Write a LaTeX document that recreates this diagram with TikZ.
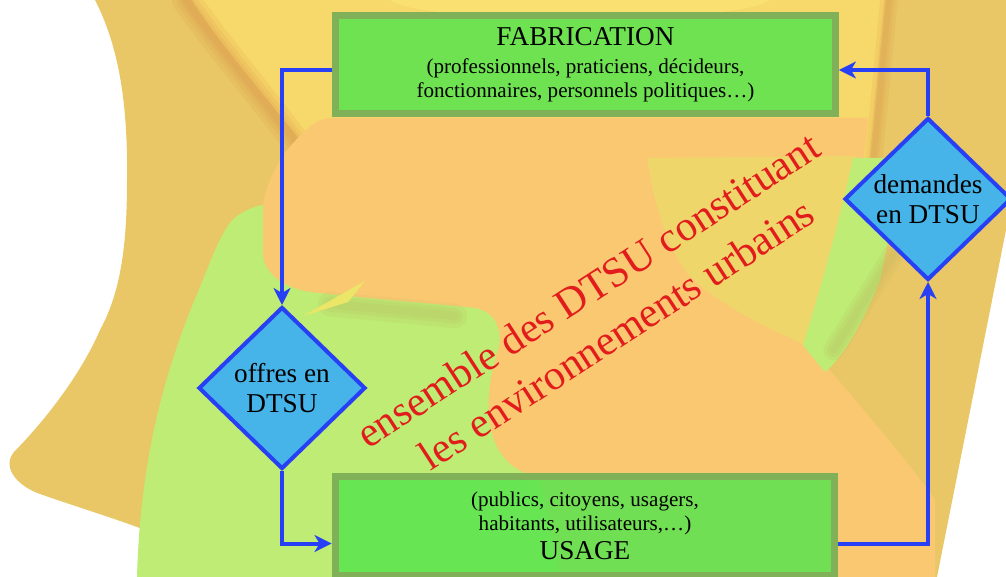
\documentclass[tikz,border=0pt]{standalone}
\usepackage{fontspec}
\setmainfont{Liberation Serif}
\definecolor{fondtan}{RGB}{233,199,102}
\definecolor{fondjaune}{RGB}{247,216,106}
\definecolor{jauneclair}{RGB}{238,214,106}
\definecolor{jaunevif}{RGB}{249,224,112}
\definecolor{fondpeche}{RGB}{251,200,114}
\definecolor{fondvert}{RGB}{190,236,116}
\definecolor{coinjaune}{RGB}{236,230,104}
\definecolor{ombre}{RGB}{214,136,66}
\definecolor{ombrevert}{RGB}{185,178,92}
\definecolor{boitevert}{RGB}{88,228,78}
\definecolor{bordvert}{RGB}{128,176,88}
\definecolor{losbleu}{RGB}{70,180,232}
\definecolor{flechebleu}{RGB}{40,64,245}
\definecolor{rougetexte}{RGB}{226,28,28}
\usetikzlibrary{arrows.meta, shapes.geometric}

\begin{document}
\begin{tikzpicture}[x=0.02cm, y=-0.02cm,
          boite/.style={draw=bordvert, line width=0.14cm, fill=boitevert,
              fill opacity=0.85, text opacity=1, inner sep=0pt,
              minimum width=10cm, minimum height=1.97cm,
              font=\fontsize{12}{13.5}\selectfont, align=center},
          losange/.style={diamond, draw=flechebleu, line width=0.08cm, fill=losbleu,
              inner sep=0pt, minimum width=3.34cm, minimum height=3.24cm,
              font=\fontsize{15.5}{17}\selectfont, align=center},
          fleche/.style={-{Stealth[length=0.34cm, width=0.34cm, inset=0.1cm]},
              flechebleu, line width=0.08cm},
          douce/.style={line cap=round, opacity=0.12}
        ]
        \useasboundingbox (0,0) rectangle (1006,577);

        % taches de fond
        \fill[fondtan] (95,0) .. controls (118,45) and (128,100) .. (127,180)
          .. controls (127,240) and (122,290) .. (100,330)
          .. controls (85,365) and (55,410) .. (14,452)
          .. controls (2,466) and (15,485) .. (40,494)
          .. controls (80,508) and (120,520) .. (150,532)
          -- (150,577) -- (937,577) -- (1006,230) -- (1006,0) -- cycle;
        \fill[fondjaune] (192,0) -- (885,0) .. controls (875,100) and (868,200) .. (850,300)
          -- (420,330) -- (300,140) .. controls (260,90) and (220,45) .. (192,0) -- cycle;
        \fill[jaunevif] (390,0) .. controls (420,25) and (740,25) .. (770,0) -- cycle;
        \foreach \w in {16,11,7,4}
          \draw[ombre, douce, line width=\w pt] (186,0) .. controls (218,45) and (258,92) .. (296,142);
        \foreach \w in {10,6,3}
          \draw[ombre, douce, line width=\w pt] (889,0) .. controls (879,100) and (872,200) .. (854,300);
        \fill[fondpeche] (300,136) .. controls (310,125) and (320,118) .. (332,118)
          -- (868,118) .. controls (862,200) and (840,290) .. (806,342)
          .. controls (850,395) and (900,450) .. (935,500) -- (935,577) -- (420,577)
          -- (420,320) -- (310,292)
          .. controls (285,288) and (265,275) .. (263,255) -- (263,205)
          .. controls (268,175) and (285,150) .. (300,136) -- cycle;
        \fill[jauneclair] (647,158) -- (856,156) .. controls (850,220) and (830,300) .. (806,345)
          .. controls (770,330) and (720,305) .. (692,278)
          .. controls (670,255) and (655,210) .. (647,158) -- cycle;
        \fill[fondvert] (137,577) .. controls (140,470) and (160,380) .. (200,287)
          .. controls (215,250) and (225,222) .. (240,214)
          .. controls (248,209) and (256,206) .. (263,205)
          -- (263,255) .. controls (265,275) and (285,288) .. (310,292)
          .. controls (380,300) and (440,304) .. (475,308)
          .. controls (498,312) and (503,335) .. (498,350)
          .. controls (485,390) and (485,430) .. (500,452)
          .. controls (510,468) and (525,474) .. (540,478)
          -- (560,577) -- cycle;
        \fill[fondvert] (853,158) -- (905,158) -- (880,280)
          .. controls (860,330) and (840,360) .. (825,372)
          .. controls (815,360) and (808,352) .. (803,345)
          .. controls (820,290) and (840,220) .. (853,158) -- cycle;
        \foreach \w in {12,8,4}
          \draw[ombrevert, douce, line width=\w pt] (893,255) -- (834,350);
        \foreach \w in {14,9,5}
          \draw[ombrevert, douce, line width=\w pt] (330,304) .. controls (370,308) and (420,312) .. (455,316);
        \fill[coinjaune] (303,316) -- (365,281) -- (348,302) -- cycle;

        \node[boite] (fab) at (585.5,64.5)
          {{\fontsize{15.5}{18}\selectfont FABRICATION}\\[2.3pt]
           (professionnels, praticiens, décideurs,\\
           fonctionnaires, personnels politiques\dots)};
        \node[boite] (usage) at (585,526)
          {(publics, citoyens, usagers,\\
           habitants, utilisateurs,\dots)\\[3pt]
           {\fontsize{15.5}{18}\selectfont USAGE}};
        \node[losange] (offre)   at (282,388) {offres en\\DTSU};
        \node[losange] (demande) at (928,199) {demandes\\en DTSU};

        \node[rotate=33, text=rougetexte, align=center,
          font=\fontsize{24}{30}\selectfont] (legende) at (602,312)
          {ensemble des DTSU constituant\\les environnements urbains};

        \draw[fleche] ([yshift=-0.11cm]fab.west) -| (offre.north);
        \draw[fleche] (offre.south) |- ([yshift=-0.35cm]usage.west);
        \draw[fleche] ([yshift=-0.35cm]usage.east) -| (demande.south);
        \draw[fleche] (demande.north) |- ([yshift=-0.11cm]fab.east);
      \end{tikzpicture}
\end{document}
